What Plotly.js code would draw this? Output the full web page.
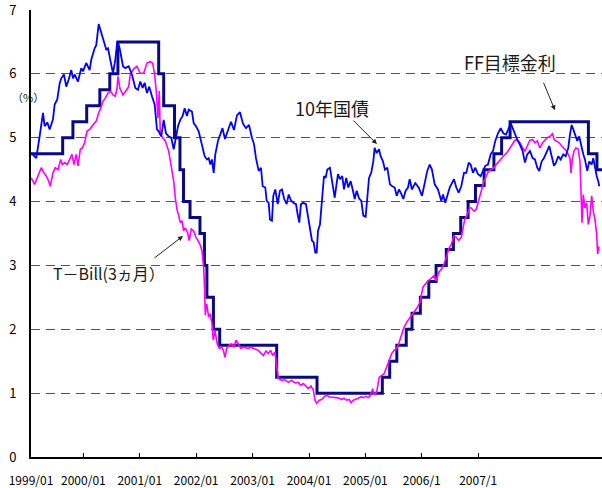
<!DOCTYPE html>
<html><head><meta charset="utf-8">
<script src="https://cdn.plot.ly/plotly-3.0.1.min.js"></script>
<style>html,body{margin:0;padding:0;background:#fff}#chart{width:602px;height:488px}</style>
</head><body><div id="chart"></div>
<script>
// x positions are decimal years
const tickPositions = [1999.016, 1999.833, 2000.713, 2001.593, 2002.473, 2003.353, 2004.233, 2005.112, 2005.992];
const tickLabels = ['1999/01','2000/01','2001/01','2002/01','2003/01','2004/01','2005/01','2006/1','2007/1'];
const yTicks = [0,1,2,3,4,5,6,7];

// FF target rate (step changes)
const ffT = [1999.0,1999.51,1999.67,1999.885,2000.09,2000.245,2000.372,2001.008,2001.086,2001.255,2001.34,2001.395,2001.497,2001.652,2001.722,2001.76,2001.862,2001.96,2002.849,2003.478,2004.497,2004.612,2004.723,2004.87,2004.96,2005.09,2005.222,2005.336,2005.495,2005.606,2005.72,2005.835,2005.95,2006.085,2006.238,2006.358,2006.49,2007.712,2007.845,2007.93];
const ffY = [4.75,5.0,5.25,5.5,5.75,6.0,6.5,6.0,5.5,5.0,4.5,4.0,3.75,3.5,3.0,2.5,2.0,1.75,1.25,1.0,1.25,1.5,1.75,2.0,2.25,2.5,2.75,3.0,3.25,3.5,3.75,4.0,4.25,4.5,4.75,5.0,5.25,4.75,4.5,4.5];

// 10-year Treasury
const bondT = [1999.020,1999.098,1999.151,1999.203,1999.229,1999.270,1999.307,1999.359,1999.385,1999.426,
1999.463,1999.488,1999.530,1999.566,1999.604,1999.644,1999.671,1999.697,1999.749,1999.800,
1999.827,1999.878,1999.931,1999.956,2000.009,2000.034,2000.072,2000.112,2000.154,2000.190,
2000.217,2000.259,2000.295,2000.331,2000.362,2000.399,2000.451,2000.487,2000.540,2000.591,
2000.643,2000.685,2000.721,2000.758,2000.789,2000.825,2000.861,2000.903,2000.945,2000.981,
2001.008,2001.048,2001.086,2001.122,2001.164,2001.204,2001.242,2001.267,2001.309,2001.345,
2001.382,2001.413,2001.449,2001.476,2001.527,2001.554,2001.590,2001.632,2001.672,2001.699,
2001.725,2001.761,2001.788,2001.813,2001.839,2001.866,2001.891,2001.933,2001.964,2002.003,
2002.042,2002.089,2002.136,2002.183,2002.229,2002.276,2002.323,2002.370,2002.417,2002.463,
2002.495,2002.526,2002.568,2002.604,2002.630,2002.671,2002.693,2002.724,2002.744,2002.775,
2002.796,2002.827,2002.864,2002.900,2002.931,2002.967,2003.005,2003.036,2003.072,2003.108,
2003.150,2003.176,2003.201,2003.228,2003.264,2003.306,2003.332,2003.368,2003.399,2003.426,
2003.451,2003.473,2003.493,2003.524,2003.560,2003.587,2003.613,2003.638,2003.680,2003.716,
2003.754,2003.785,2003.805,2003.836,2003.872,2003.899,2003.934,2003.966,2004.003,2004.039,
2004.066,2004.097,2004.133,2004.169,2004.200,2004.237,2004.262,2004.289,2004.324,2004.356,
2004.377,2004.409,2004.445,2004.471,2004.507,2004.538,2004.574,2004.616,2004.652,2004.690,
2004.721,2004.757,2004.793,2004.824,2004.861,2004.897,2004.924,2004.959,2005.011,2005.064,
2005.116,2005.158,2005.198,2005.236,2005.271,2005.314,2005.365,2005.417,2005.443,2005.479,
2005.510,2005.548,2005.573,2005.615,2005.651,2005.688,2005.729,2005.771,2005.807,2005.844,
2005.875,2005.911,2005.947,2005.989,2006.031,2006.067,2006.103,2006.145,2006.187,2006.223,
2006.259,2006.301,2006.343,2006.384,2006.426,2006.462,2006.499,2006.530,2006.566,2006.602,
2006.644,2006.686,2006.722,2006.758,2006.800,2006.842,2006.878,2006.914,2006.945,2006.983,
2007.019,2007.061,2007.101,2007.139,2007.175,2007.206,2007.242,2007.279,2007.320,2007.357,
2007.398,2007.424,2007.451,2007.476,2007.502,2007.538,2007.569,2007.607,2007.632,2007.658,
2007.694,2007.725,2007.763,2007.788,2007.814,2007.841,2007.866,2007.881];
const bondY = [4.76,4.68,5.02,5.39,5.18,5.24,5.13,5.29,5.52,5.60,
5.85,5.93,5.99,5.80,5.91,6.06,5.93,5.99,5.88,6.09,
6.04,6.17,6.06,6.22,6.40,6.45,6.78,6.64,6.51,6.38,
6.40,6.17,6.01,6.22,6.51,6.40,6.12,6.09,6.12,5.99,
5.78,5.75,5.88,5.78,5.86,5.70,5.80,5.65,5.52,5.13,
5.10,5.02,5.28,5.07,5.02,5.00,4.82,4.95,5.18,5.28,
5.34,5.46,5.34,5.44,5.41,5.23,5.18,5.10,4.95,4.82,
4.71,4.66,4.68,4.58,4.66,4.45,4.74,4.95,5.05,5.15,
4.98,5.10,5.25,5.12,5.35,5.40,5.22,5.15,5.20,5.00,
4.90,4.68,4.48,4.53,4.24,4.22,4.01,3.98,3.72,3.70,
4.09,4.19,3.96,4.17,4.19,4.04,3.96,4.11,4.02,3.98,
3.96,3.80,3.67,3.96,3.98,3.96,3.80,3.57,3.39,3.36,
3.20,3.20,3.54,3.64,4.09,4.40,4.37,4.50,4.53,4.32,
4.06,4.29,4.43,4.35,4.40,4.19,4.37,4.22,4.32,4.17,
4.04,4.17,4.05,4.01,3.78,3.76,4.11,4.37,4.45,4.63,
4.84,4.76,4.82,4.71,4.63,4.50,4.53,4.27,4.24,4.22,
4.09,4.19,4.12,4.04,4.17,4.22,4.35,4.19,4.29,4.22,
4.09,4.29,4.48,4.58,4.50,4.27,4.19,4.01,4.11,3.98,
4.09,4.22,4.27,4.35,4.22,4.14,4.24,4.45,4.45,4.61,
4.58,4.45,4.53,4.43,4.40,4.48,4.56,4.58,4.74,4.79,
4.95,5.07,5.15,5.07,5.05,5.13,5.23,5.15,5.05,4.97,
4.89,4.79,4.61,4.74,4.79,4.68,4.66,4.53,4.48,4.63,
4.68,4.79,4.87,4.71,4.56,4.61,4.71,4.66,4.74,4.71,
4.84,5.05,5.20,5.13,5.05,4.95,5.02,4.84,4.74,4.66,
4.48,4.63,4.58,4.68,4.53,4.40,4.32,4.24];

// 3-month T-Bill
const billT = [1999.020,1999.073,1999.125,1999.176,1999.218,1999.254,1999.292,1999.317,1999.359,1999.395,
1999.437,1999.479,1999.504,1999.541,1999.582,1999.619,1999.655,1999.686,1999.722,1999.749,
1999.785,1999.816,1999.853,1999.889,1999.931,1999.967,1999.998,2000.034,2000.072,2000.103,
2000.139,2000.175,2000.217,2000.259,2000.295,2000.331,2000.357,2000.373,2000.404,2000.435,
2000.451,2000.487,2000.540,2000.565,2000.618,2000.669,2000.721,2000.774,2000.825,2000.877,
2000.914,2000.945,2000.970,2000.997,2001.017,2001.033,2001.070,2001.111,2001.164,2001.204,
2001.242,2001.267,2001.293,2001.320,2001.345,2001.371,2001.398,2001.423,2001.460,2001.485,
2001.516,2001.554,2001.590,2001.621,2001.652,2001.683,2001.710,2001.725,2001.735,2001.757,
2001.788,2001.813,2001.839,2001.860,2001.886,2001.922,2001.953,2001.991,2002.016,2002.042,
2002.069,2002.109,2002.147,2002.183,2002.214,2002.250,2002.287,2002.328,2002.370,2002.406,
2002.443,2002.484,2002.526,2002.562,2002.599,2002.640,2002.682,2002.718,2002.755,2002.786,
2002.822,2002.849,2002.874,2002.927,2002.978,2003.030,2003.083,2003.134,2003.186,2003.223,
2003.264,2003.306,2003.342,2003.384,2003.420,2003.446,2003.473,2003.513,2003.551,2003.587,
2003.629,2003.669,2003.707,2003.743,2003.785,2003.825,2003.863,2003.899,2003.941,2003.981,
2004.008,2004.044,2004.086,2004.122,2004.164,2004.200,2004.242,2004.278,2004.315,2004.346,
2004.367,2004.409,2004.449,2004.487,2004.523,2004.565,2004.605,2004.643,2004.679,2004.721,
2004.761,2004.799,2004.835,2004.877,2004.917,2004.955,2005.006,2005.042,2005.084,2005.131,
2005.167,2005.209,2005.251,2005.303,2005.338,2005.376,2005.417,2005.459,2005.495,2005.532,
2005.573,2005.615,2005.651,2005.688,2005.729,2005.755,2005.782,2005.822,2005.860,2005.885,
2005.927,2005.963,2006.000,2006.041,2006.083,2006.119,2006.156,2006.197,2006.239,2006.274,
2006.312,2006.353,2006.384,2006.437,2006.488,2006.530,2006.566,2006.602,2006.644,2006.686,
2006.722,2006.758,2006.800,2006.842,2006.878,2006.914,2006.956,2006.998,2007.034,2007.070,
2007.112,2007.152,2007.179,2007.217,2007.257,2007.295,2007.331,2007.373,2007.398,2007.424,
2007.440,2007.460,2007.487,2007.518,2007.554,2007.580,2007.596,2007.612,2007.632,2007.658,
2007.685,2007.710,2007.736,2007.763,2007.788,2007.814,2007.841,2007.856,2007.877];
const billY = [4.37,4.27,4.40,4.53,4.45,4.40,4.32,4.24,4.45,4.53,
4.50,4.66,4.58,4.61,4.58,4.66,4.74,4.58,4.74,4.56,
4.82,4.84,4.92,5.10,5.13,5.18,5.21,5.26,5.39,5.46,
5.57,5.62,5.70,5.73,5.67,5.65,5.77,5.96,5.77,5.70,
5.67,5.72,5.80,5.99,6.08,6.12,6.01,6.01,6.17,6.19,
6.17,5.99,5.73,5.31,5.73,5.05,5.00,4.95,4.79,4.58,
4.32,4.06,3.88,3.78,3.67,3.70,3.54,3.59,3.51,3.39,
3.57,3.54,3.44,3.39,3.33,3.23,2.97,2.61,2.22,2.40,
2.19,2.24,2.09,1.83,1.98,1.77,1.70,1.72,1.67,1.56,
1.70,1.75,1.77,1.72,1.83,1.77,1.70,1.72,1.71,1.70,
1.72,1.70,1.68,1.67,1.63,1.59,1.66,1.62,1.67,1.59,
1.64,1.41,1.23,1.20,1.21,1.17,1.20,1.16,1.17,1.12,
1.15,1.11,1.07,1.11,1.05,0.89,0.84,0.89,0.90,0.94,
0.97,0.94,0.94,0.93,0.93,0.92,0.90,0.92,0.89,0.90,
0.85,0.89,0.90,0.92,0.94,0.93,0.95,0.93,0.97,1.07,
0.97,1.02,1.25,1.28,1.30,1.41,1.51,1.62,1.67,1.70,
1.80,1.93,2.03,2.11,2.16,2.22,2.29,2.34,2.42,2.66,
2.71,2.76,2.79,2.84,2.76,2.89,2.94,3.02,3.12,3.26,
3.33,3.46,3.44,3.39,3.44,3.59,3.72,3.80,3.90,3.90,
3.85,3.88,4.01,4.17,4.32,4.40,4.48,4.50,4.53,4.58,
4.63,4.68,4.71,4.76,4.84,4.92,4.96,4.97,4.92,4.84,
4.79,4.87,4.96,4.97,4.92,4.95,4.84,4.92,4.97,5.00,
5.02,5.06,4.97,4.95,4.92,4.87,4.84,4.79,4.74,4.68,
4.45,4.66,4.79,4.84,4.82,4.63,4.17,3.67,4.11,3.90,
3.98,3.64,3.78,4.09,3.85,3.72,3.49,3.18,3.30];

const traces = [
  {x: ffT, y: ffY, type:'scatter', mode:'lines', line:{color:'#0a0a80', width:3, shape:'hv'}, name:'FF目標金利'},
  {x: billT, y: billY, type:'scatter', mode:'lines', line:{color:'#ff00ff', width:1.6}, name:'T－Bill(3ヵ月)'},
  {x: bondT, y: bondY, type:'scatter', mode:'lines', line:{color:'#0000ff', width:1.8}, name:'10年国債'}
];

const txt = '#1a1a1a';
const layout = {
  width:602, height:488,
  margin:{l:31, r:0, t:10, b:31, pad:0},
  paper_bgcolor:'#ffffff', plot_bgcolor:'#ffffff',
  showlegend:false,
  font:{family:'"Noto Sans CJK JP", "Noto Sans", sans-serif', size:12, color:'#000'},
  xaxis:{type:'linear', range:[1999.016, 2007.924], showgrid:false, zeroline:false,
    showline:true, linecolor:'#000', linewidth:2, ticks:'inside', ticklen:4, tickwidth:1, tickcolor:'#000',
    tickmode:'array', tickvals:tickPositions, ticktext:tickLabels, ticklabelstandoff:12,
    ticklabeloverflow:'allow', tickfont:{size:12, color:'#000'}},
  yaxis:{range:[0,7], tickmode:'array', tickvals:yTicks, showgrid:true, gridcolor:'#555555',
    griddash:'9px,6px', gridwidth:1, zeroline:false, showline:true, linecolor:'#000', linewidth:2,
    ticks:'outside', ticklen:10, tickcolor:'rgba(0,0,0,0)', ticklabeloverflow:'allow',
    tickfont:{size:13, color:'#000'}},
  annotations:[
    {x:2006.488, y:6.18, text:'FF目標金利', showarrow:false, font:{size:18, color:txt}, xanchor:'center', yanchor:'middle'},
    {x:2007.190, y:5.43, ax:-12, ay:-29, text:'', showarrow:true, arrowhead:2, arrowsize:1, arrowwidth:1, arrowcolor:'#222'},
    {x:2003.711, y:5.46, text:'10年国債', showarrow:false, font:{size:18, color:txt}, xanchor:'center', yanchor:'middle'},
    {x:2004.413, y:4.90, ax:-25, ay:-25, text:'', showarrow:true, arrowhead:2, arrowsize:1, arrowwidth:1, arrowcolor:'#222'},
    {x:2000.232, y:2.886, text:'T－Bill(3ヵ月）', showarrow:false, font:{size:16, color:txt}, xanchor:'center', yanchor:'middle'},
    {x:2001.387, y:3.46, ax:-30, ay:23, text:'', showarrow:true, arrowhead:2, arrowsize:1, arrowwidth:1, arrowcolor:'#222'},
    {xref:'paper', yref:'paper', x:-0.005, y:0.806, text:'（%）', showarrow:false, font:{size:11, color:txt}, xanchor:'center', yanchor:'middle'}
  ]
};

Plotly.newPlot('chart', traces, layout, {staticPlot:true, displayModeBar:false});
</script></body></html>
